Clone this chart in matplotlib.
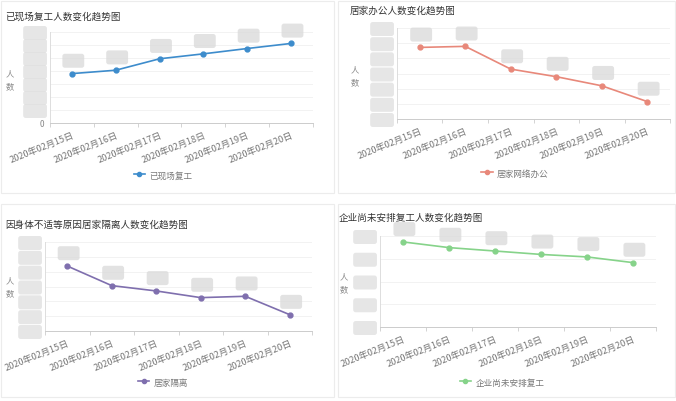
import matplotlib.pyplot as plt
from matplotlib.patches import Rectangle
from matplotlib.lines import Line2D

plt.rcParams['font.family'] = ['Noto Sans CJK SC', 'DejaVu Sans']

# dates shared by all four panels
dates = ['2020年02月15日', '2020年02月16日', '2020年02月17日',
         '2020年02月18日', '2020年02月19日', '2020年02月20日']

onsite = [3800, 4060, 4940, 5320, 5730, 6120]
home_office = [4720, 4790, 3290, 2790, 2190, 1150]
isolated = [4380, 3060, 2700, 2250, 2340, 1100]
not_back = [3740, 3490, 3340, 3190, 3080, 2830]

titles = ['已现场复工人数变化趋势图', '居家办公人数变化趋势图',
          '因身体不适等原因居家隔离人数变化趋势图', '企业尚未安排复工人数变化趋势图']
series_names = ['已现场复工', '居家网络办公', '居家隔离', '企业尚未安排复工']
colors = ['#3d8ccc', '#e8887a', '#7f6fae', '#86d38a']
ymaxes = [7000, 6000, 6000, 4000]
ysteps = [1000, 1000, 1000, 1000]

W, H = 676, 402
fig = plt.figure(figsize=(W / 100, H / 100), dpi=100)

def px(x, y):
    return x / W, 1 - y / H

# panel layout in pixels: axes box (left, top, right, bottom), title, y label, legend
layout = [
    dict(ax=(50, 33, 313, 124), title=(5, 17), ylab=(10, 80), leg=(163, 176), show_zero=True),
    dict(ax=(397, 29, 670, 120), title=(350, 11), ylab=(355, 76), leg=(515, 174), show_zero=False),
    dict(ax=(45, 243, 312, 332), title=(5, 225), ylab=(10, 287), leg=(163, 383), show_zero=False),
    dict(ax=(380, 237, 656, 328), title=(339, 218), ylab=(344, 283), leg=(502, 383), show_zero=False),
]
data = [onsite, home_office, isolated, not_back]

# card frames
for (x0, y0, x1, y1) in [(1, 2, 334, 194), (338, 2, 675, 194), (1, 205, 334, 398), (338, 205, 675, 398)]:
    fig.patches.append(Rectangle(px(x0, y1), (x1 - x0) / W, (y1 - y0) / H,
                                 transform=fig.transFigure, fill=False,
                                 ec='#ececec', lw=0.8))

xs = list(range(len(dates)))
for i in range(4):
    L = layout[i]
    l, t, r, b = L['ax']
    ax = fig.add_axes([l / W, 1 - b / H, (r - l) / W, (b - t) / H])
    ax.plot(xs, data[i], color=colors[i], lw=1.2, marker='o', ms=3.5,
            label=series_names[i])
    ax.set_xlim(-0.5, len(dates) - 0.5)
    ax.set_ylim(0, ymaxes[i])
    yt = list(range(0, ymaxes[i] + 1, ysteps[i]))
    ax.set_yticks(yt)
    ax.grid(axis='y', color='#f2f2f2', lw=0.7)
    ax.set_axisbelow(True)

    # blurred data labels
    for x, v in zip(xs, data[i]):
        ax.annotate('         ', (x, v), xytext=(1, 6), textcoords='offset points',
                    ha='center', va='bottom', fontsize=6,
                    bbox=dict(boxstyle='round,pad=0.3', fc='#d9d9d9', ec='none', alpha=0.75))

    # y tick labels are blurred as well
    labels = []
    for v in yt:
        labels.append('0' if (v == 0 and L['show_zero']) else '          ')
    ax.set_yticklabels(labels, fontsize=6, color='#888888')
    for v, tl in zip(yt, ax.get_yticklabels()):
        if not (v == 0 and L['show_zero']):
            tl.set_bbox(dict(boxstyle='round,pad=0.3', fc='#e0e0e0', ec='none', alpha=0.8))
    ax.tick_params(axis='y', length=0, pad=4)

    ax.set_xticks(xs)
    ax.set_xticklabels(dates, rotation=22, ha='right', rotation_mode='anchor',
                       fontsize=6.6, color='#777777')
    ax.set_xticks([x - 0.5 for x in range(len(dates) + 1)], minor=True)
    ax.tick_params(axis='x', which='major', length=0, pad=5)
    ax.tick_params(axis='x', which='minor', length=3, color='#cccccc')

    for s in ['top', 'right']:
        ax.spines[s].set_visible(False)
    ax.spines['left'].set_color('#dddddd')
    ax.spines['bottom'].set_color('#cccccc')
    ax.spines['left'].set_linewidth(0.7)
    ax.spines['bottom'].set_linewidth(0.7)

    tx, ty = px(*L['title'])
    fig.text(tx, ty, titles[i], fontsize=6.9, color='#333333', va='center', ha='left')
    lx, ly = px(*L['ylab'])
    fig.text(lx, ly, '人\n数', fontsize=6, color='#888888', va='center', ha='center',
             linespacing=1.6)

    gx, gy = px(*L['leg'])
    handle = Line2D([], [], color=colors[i], lw=1.2, marker='o', ms=3)
    leg = ax.legend([handle], [series_names[i]], loc='center', bbox_to_anchor=(gx, gy),
                    bbox_transform=fig.transFigure, frameon=False, fontsize=6.2,
                    handlelength=1.3, handletextpad=0.5)
    for tx_ in leg.get_texts():
        tx_.set_color('#777777')

fig.savefig('out.png', dpi=100)
